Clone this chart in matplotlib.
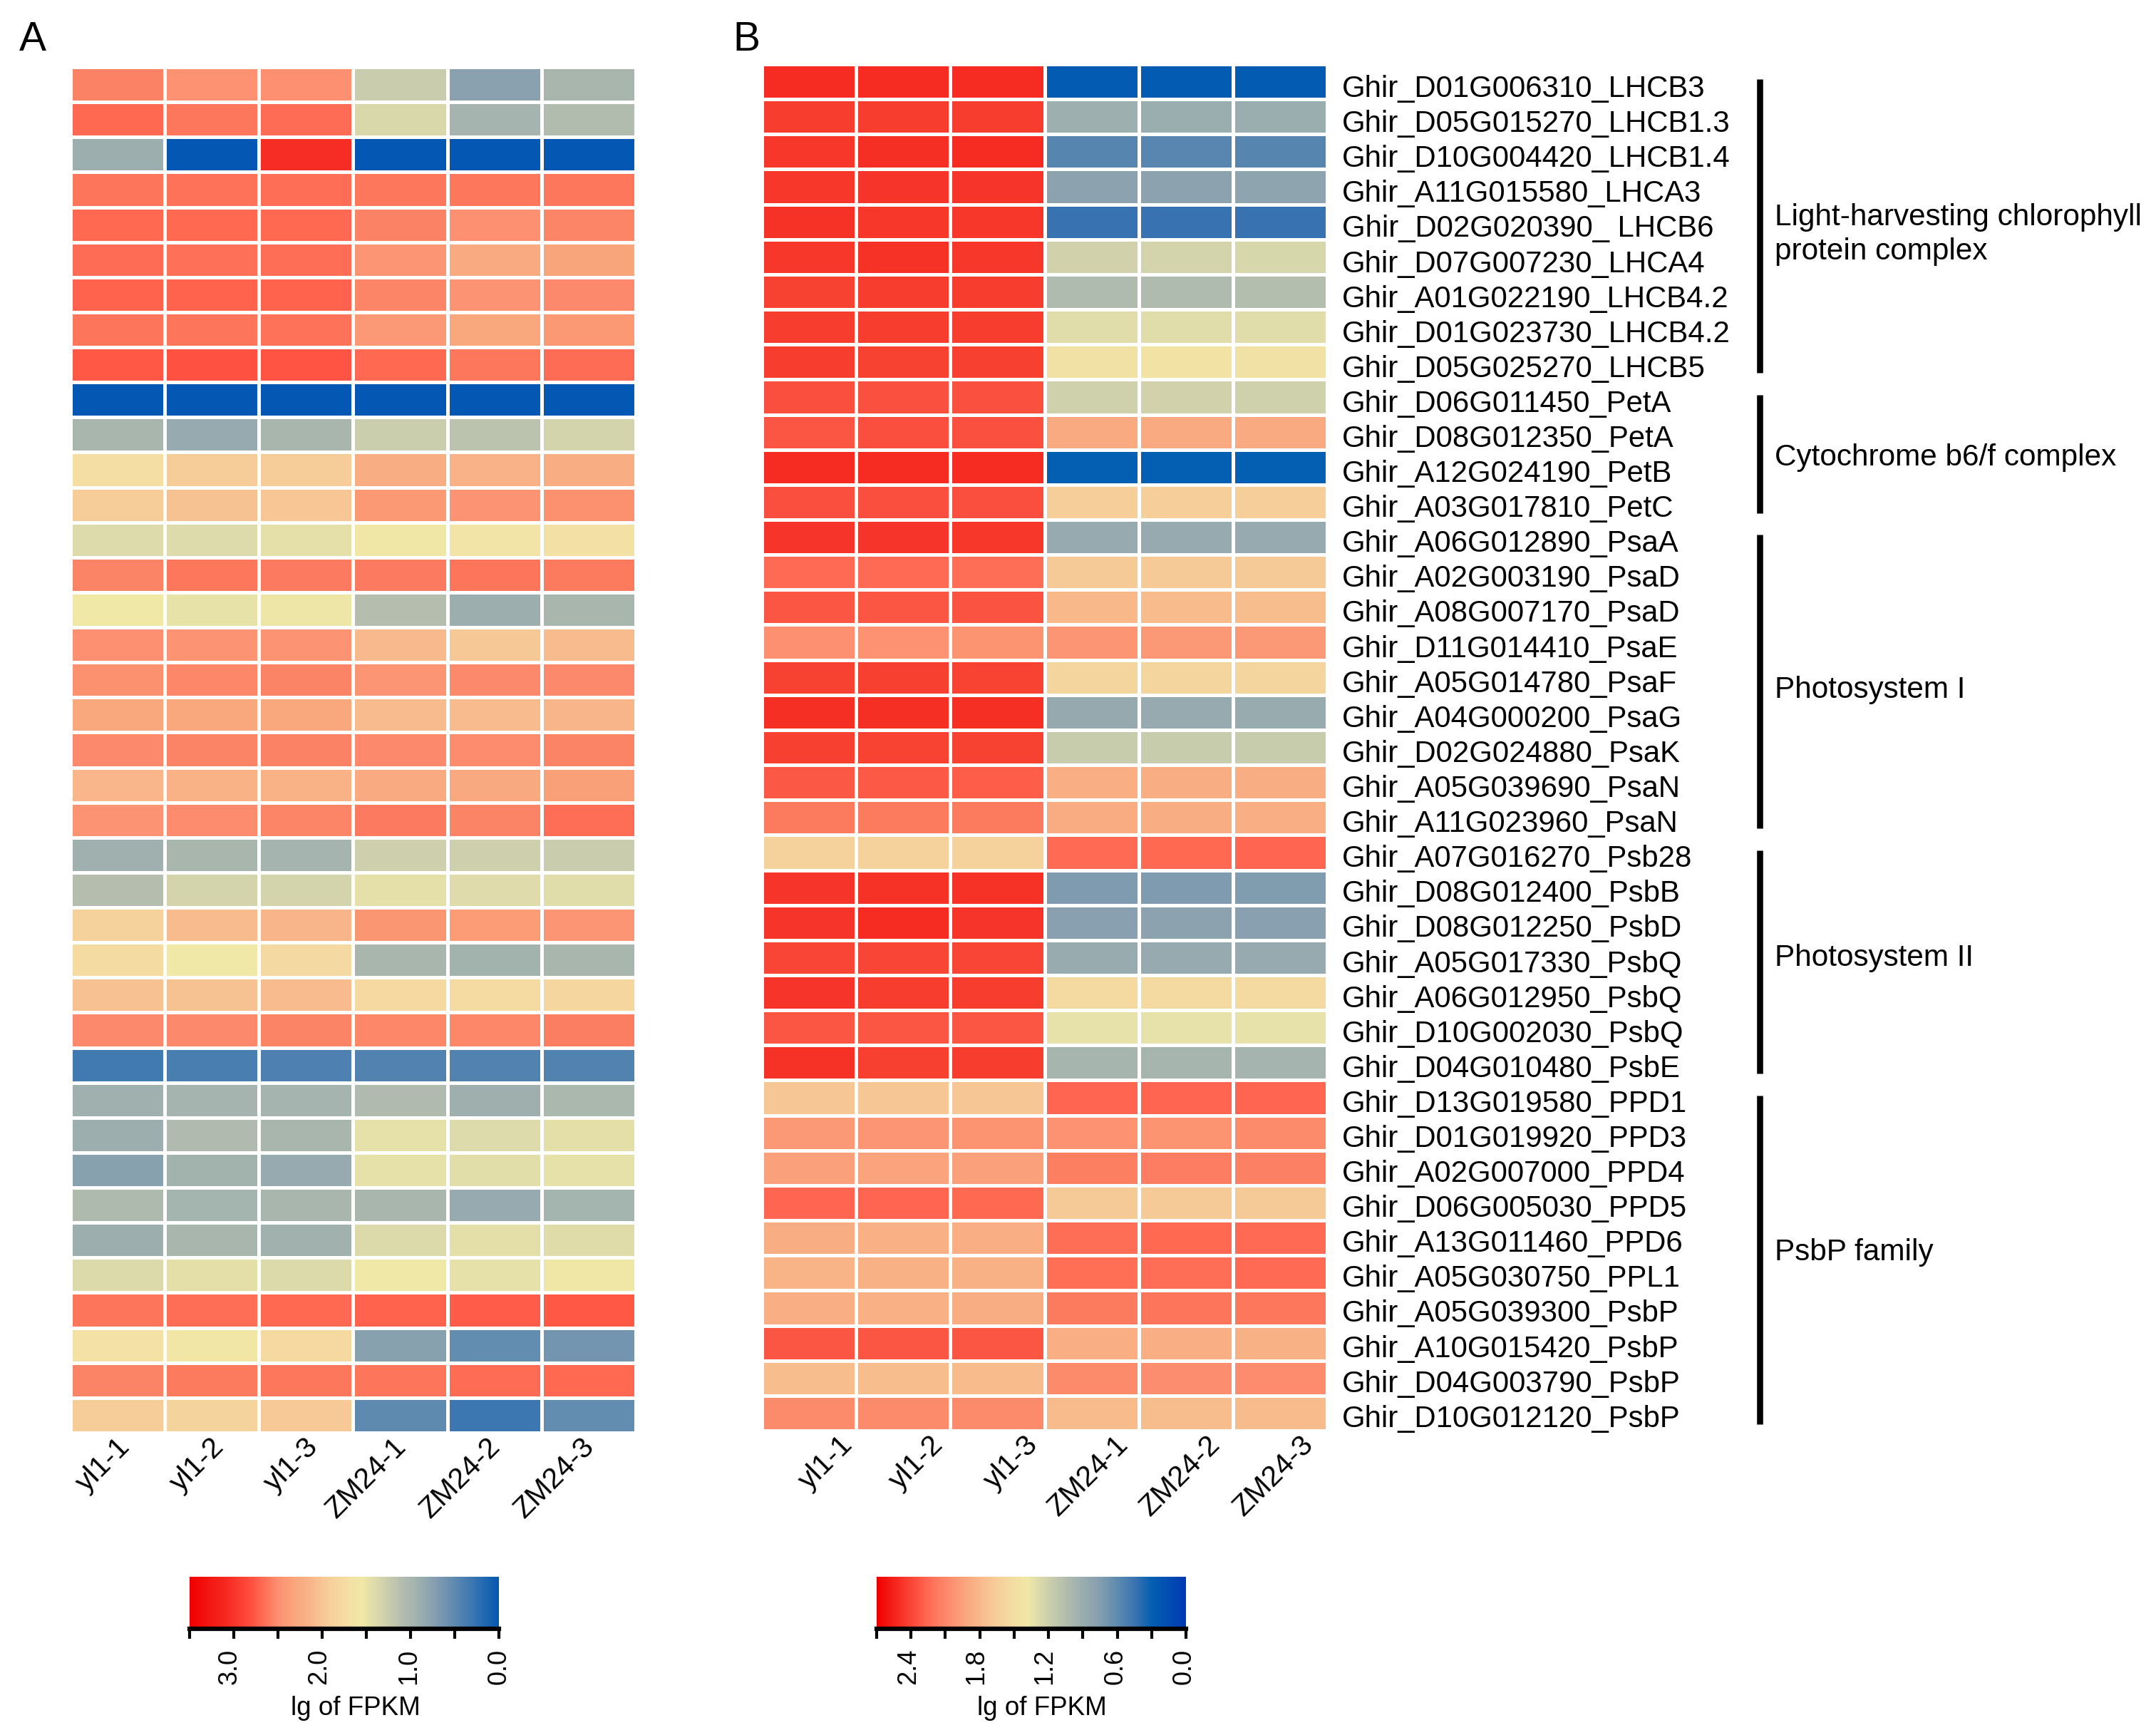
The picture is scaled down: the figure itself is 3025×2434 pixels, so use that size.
import numpy as np
import matplotlib
matplotlib.use("Agg")
import matplotlib.pyplot as plt
from matplotlib.colors import LinearSegmentedColormap, Normalize
from matplotlib.cm import ScalarMappable
from matplotlib.transforms import ScaledTranslation

plt.rcParams['font.family'] = ['Liberation Sans', 'DejaVu Sans']

samples = ["yl1-1", "yl1-2", "yl1-3", "ZM24-1", "ZM24-2", "ZM24-3"]

genes = ["Ghir_D01G006310_LHCB3", "Ghir_D05G015270_LHCB1.3", "Ghir_D10G004420_LHCB1.4",
         "Ghir_A11G015580_LHCA3", "Ghir_D02G020390_ LHCB6", "Ghir_D07G007230_LHCA4",
         "Ghir_A01G022190_LHCB4.2", "Ghir_D01G023730_LHCB4.2", "Ghir_D05G025270_LHCB5",
         "Ghir_D06G011450_PetA", "Ghir_D08G012350_PetA", "Ghir_A12G024190_PetB",
         "Ghir_A03G017810_PetC", "Ghir_A06G012890_PsaA", "Ghir_A02G003190_PsaD",
         "Ghir_A08G007170_PsaD", "Ghir_D11G014410_PsaE", "Ghir_A05G014780_PsaF",
         "Ghir_A04G000200_PsaG", "Ghir_D02G024880_PsaK", "Ghir_A05G039690_PsaN",
         "Ghir_A11G023960_PsaN", "Ghir_A07G016270_Psb28", "Ghir_D08G012400_PsbB",
         "Ghir_D08G012250_PsbD", "Ghir_A05G017330_PsbQ", "Ghir_A06G012950_PsbQ",
         "Ghir_D10G002030_PsbQ", "Ghir_D04G010480_PsbE", "Ghir_D13G019580_PPD1",
         "Ghir_D01G019920_PPD3", "Ghir_A02G007000_PPD4", "Ghir_D06G005030_PPD5",
         "Ghir_A13G011460_PPD6", "Ghir_A05G030750_PPL1", "Ghir_A05G039300_PsbP",
         "Ghir_A10G015420_PsbP", "Ghir_D04G003790_PsbP", "Ghir_D10G012120_PsbP"]

# name, first row, last row
group_names = ["Light-harvesting chlorophyll\nprotein complex", "Cytochrome b6/f complex",
               "Photosystem I", "Photosystem II", "PsbP family"]
group_first = [0, 9, 13, 22, 29]
group_last = [8, 12, 21, 28, 38]
group_text_y = [329, 642, 968, 1344, 1757]

values_a = [
    [2.57, 2.48, 2.50, 1.25, 0.76, 1.00],
    [2.68, 2.62, 2.67, 1.37, 0.97, 1.08],
    [0.90, 0.00, 3.05, 0.00, 0.00, 0.00],
    [2.63, 2.64, 2.66, 2.62, 2.62, 2.62],
    [2.68, 2.68, 2.68, 2.57, 2.50, 2.55],
    [2.67, 2.65, 2.66, 2.46, 2.27, 2.33],
    [2.72, 2.72, 2.72, 2.55, 2.47, 2.53],
    [2.63, 2.63, 2.64, 2.43, 2.30, 2.42],
    [2.76, 2.79, 2.78, 2.68, 2.62, 2.67],
    [0.00, 0.00, 0.00, 0.00, 0.00, 0.00],
    [1.00, 0.85, 1.00, 1.27, 1.15, 1.33],
    [1.72, 1.95, 1.95, 2.23, 2.17, 2.23],
    [1.93, 2.03, 2.00, 2.42, 2.47, 2.49],
    [1.40, 1.40, 1.46, 1.57, 1.62, 1.68],
    [2.56, 2.62, 2.60, 2.60, 2.63, 2.61],
    [1.55, 1.48, 1.53, 1.10, 0.90, 1.00],
    [2.50, 2.47, 2.47, 2.10, 1.98, 2.09],
    [2.49, 2.54, 2.56, 2.46, 2.53, 2.53],
    [2.30, 2.31, 2.30, 2.08, 2.09, 2.13],
    [2.53, 2.56, 2.57, 2.53, 2.52, 2.56],
    [2.12, 2.18, 2.18, 2.27, 2.29, 2.37],
    [2.47, 2.52, 2.55, 2.60, 2.56, 2.66],
    [0.92, 1.00, 0.97, 1.28, 1.28, 1.26],
    [1.10, 1.32, 1.33, 1.46, 1.41, 1.43],
    [1.88, 2.08, 2.13, 2.45, 2.40, 2.46],
    [1.75, 1.55, 1.76, 1.00, 0.95, 1.00],
    [2.04, 2.03, 2.09, 1.78, 1.77, 1.82],
    [2.53, 2.53, 2.56, 2.54, 2.54, 2.59],
    [0.34, 0.38, 0.41, 0.43, 0.43, 0.43],
    [0.92, 0.97, 0.97, 1.06, 0.91, 1.02],
    [0.90, 1.06, 1.00, 1.47, 1.40, 1.45],
    [0.75, 0.95, 0.85, 1.47, 1.44, 1.47],
    [1.05, 0.96, 1.00, 1.00, 0.85, 0.96],
    [0.90, 1.00, 0.94, 1.39, 1.45, 1.42],
    [1.39, 1.45, 1.39, 1.55, 1.47, 1.57],
    [2.63, 2.66, 2.68, 2.72, 2.74, 2.76],
    [1.67, 1.58, 1.78, 0.75, 0.52, 0.62],
    [2.56, 2.61, 2.62, 2.63, 2.67, 2.68],
    [1.93, 1.86, 1.97, 0.50, 0.31, 0.52],
]

values_b = [
    [2.50, 2.50, 2.50, 0.27, 0.27, 0.27],
    [2.44, 2.44, 2.44, 0.92, 0.91, 0.91],
    [2.46, 2.49, 2.51, 0.56, 0.57, 0.56],
    [2.46, 2.47, 2.47, 0.80, 0.80, 0.81],
    [2.48, 2.46, 2.46, 0.44, 0.44, 0.44],
    [2.46, 2.48, 2.46, 1.22, 1.23, 1.25],
    [2.42, 2.44, 2.44, 1.03, 1.03, 1.05],
    [2.44, 2.44, 2.44, 1.30, 1.30, 1.30],
    [2.44, 2.42, 2.43, 1.46, 1.45, 1.46],
    [2.36, 2.35, 2.35, 1.21, 1.22, 1.21],
    [2.33, 2.36, 2.35, 1.90, 1.90, 1.90],
    [2.50, 2.51, 2.51, 0.30, 0.30, 0.30],
    [2.36, 2.36, 2.36, 1.65, 1.65, 1.65],
    [2.47, 2.47, 2.46, 0.87, 0.87, 0.87],
    [2.25, 2.25, 2.24, 1.68, 1.68, 1.68],
    [2.33, 2.33, 2.34, 1.80, 1.78, 1.77],
    [2.05, 2.04, 2.03, 2.02, 2.00, 2.00],
    [2.42, 2.43, 2.41, 1.58, 1.58, 1.58],
    [2.49, 2.49, 2.49, 0.86, 0.87, 0.89],
    [2.43, 2.41, 2.42, 1.17, 1.17, 1.17],
    [2.32, 2.31, 2.30, 1.87, 1.88, 1.88],
    [2.18, 2.17, 2.17, 1.89, 1.88, 1.87],
    [1.62, 1.62, 1.62, 2.25, 2.26, 2.27],
    [2.47, 2.48, 2.48, 0.73, 0.73, 0.74],
    [2.47, 2.50, 2.47, 0.77, 0.80, 0.77],
    [2.40, 2.40, 2.40, 0.89, 0.87, 0.87],
    [2.47, 2.44, 2.44, 1.53, 1.53, 1.53],
    [2.33, 2.33, 2.33, 1.34, 1.34, 1.34],
    [2.48, 2.43, 2.44, 0.98, 0.98, 0.97],
    [1.70, 1.70, 1.70, 2.27, 2.27, 2.27],
    [2.00, 2.02, 2.03, 2.04, 2.03, 2.08],
    [1.95, 1.94, 1.95, 2.15, 2.16, 2.14],
    [2.27, 2.27, 2.26, 1.68, 1.68, 1.68],
    [1.88, 1.86, 1.87, 2.24, 2.26, 2.25],
    [1.84, 1.85, 1.85, 2.23, 2.24, 2.25],
    [1.87, 1.86, 1.88, 2.17, 2.20, 2.19],
    [2.33, 2.33, 2.33, 1.87, 1.87, 1.85],
    [1.77, 1.77, 1.78, 2.08, 2.06, 2.07],
    [2.08, 2.08, 2.08, 1.78, 1.77, 1.78],
]

# colour stops
vmax_a = 3.5
stops_a = [(0, "#0458B3"), (0.5, "#5F8AB0"), (0.75, "#89A1AF"), (0.95, "#A3B3AE"), (1.1, "#B4BDAE"),
           (1.35, "#D7D6AC"), (1.55, "#F0E8A6"), (1.7, "#F4DFA5"), (1.95, "#F6CC98"), (2.15, "#F9B388"),
           (2.3, "#F9A87E"), (2.5, "#FC9070"), (2.6, "#FC7C60"), (2.7, "#FF6650"), (2.8, "#FF5040"),
           (3.05, "#F62D24"), (3.5, "#F00000")]
vmax_b = 2.7
stops_b = [(0, "#0038B4"), (0.3, "#0460B2"), (0.44, "#3A72B0"), (0.6, "#5F8BB0"), (0.78, "#8AA1AF"),
           (0.9, "#9AADAF"), (1.03, "#AFBBAF"), (1.21, "#CFD1AC"), (1.3, "#E0DDAB"), (1.39, "#F0E8A6"),
           (1.5, "#F3DDA3"), (1.67, "#F6CC98"), (1.8, "#F8B88A"), (1.9, "#F9AA80"), (2.05, "#FC9070"),
           (2.18, "#FC7A5E"), (2.27, "#FF6650"), (2.35, "#FA5040"), (2.43, "#F74030"), (2.5, "#F62D24"),
           (2.7, "#F00000")]

W, H = 3025, 2434
fig = plt.figure(figsize=(W / 100, H / 100), dpi=100)


def px_axes(x0, y0, x1, y1):
    return fig.add_axes([x0 / W, 1 - y1 / H, (x1 - x0) / W, (y1 - y0) / H])


def make_cmap(stops, vmax):
    return LinearSegmentedColormap.from_list("fpkm", [(v / vmax, c) for v, c in stops], N=512)


def heatmap(box, values, cmap, vmax, label_dx):
    ax = px_axes(*box)
    data = np.array(values)
    ax.pcolormesh(data, cmap=cmap, norm=Normalize(0, vmax), edgecolors="white", linewidth=3.3)
    ax.set_xlim(0, data.shape[1])
    ax.set_ylim(data.shape[0], 0)
    ax.set_yticks([])
    ax.set_xticks(np.arange(data.shape[1]) + 0.5)
    ax.set_xticklabels(samples, rotation=45, ha="right", va="top", rotation_mode="anchor", fontsize=29.5)
    ax.tick_params(axis="x", length=0, pad=0)
    for t, dx in zip(ax.get_xticklabels(), label_dx):
        t.set_transform(t.get_transform() + ScaledTranslation(dx / 100, 0, fig.dpi_scale_trans))
    for s in ax.spines.values():
        s.set_visible(False)
    return ax


def scalebar(box, cmap, vmax, ticks, labels, label_dx, label_x):
    cax = px_axes(*box)
    cb = fig.colorbar(ScalarMappable(Normalize(0, vmax), cmap), cax=cax, orientation="horizontal")
    cb.outline.set_visible(False)
    cax.set_xlim(vmax, 0)
    cax.xaxis.set_ticks_position("bottom")
    cax.set_xticks(ticks)
    cax.set_xticklabels(labels, rotation=90, fontsize=26)
    cax.tick_params(axis="x", length=10, width=3, pad=10)
    cax.spines["bottom"].set_visible(True)
    cax.spines["bottom"].set_linewidth(4.5)
    for t, dx in zip(cax.get_xticklabels(), label_dx):
        t.set_transform(t.get_transform() + ScaledTranslation(dx / 100, 0, fig.dpi_scale_trans))
    fig.text(label_x / W, 1 - 2406 / H, "lg of FPKM", fontsize=26.5, ha="center", va="baseline")


cmap_a = make_cmap(stops_a, vmax_a)
cmap_b = make_cmap(stops_b, vmax_b)

ax_a = heatmap((99, 94, 892, 2010), values_a, cmap_a, vmax_a, [-2, -2, -3, -11, -11, -12])
ax_b = heatmap((1069, 90, 1862, 2007), values_b, cmap_b, vmax_b, [42, 37, 37, 32, 29, 27])

# gene names next to panel B
for i, g in enumerate(genes):
    fig.text(1883 / W, 1 - (125 + i * 49.1) / H, g, fontsize=30.2, ha="left", va="center")

# group brackets
bar_x = (2469 - 1069) / (1862 - 1069)
for first, last in zip(group_first, group_last):
    ax_b.plot([bar_x, bar_x], [first + 0.43, last + 0.81], color="black", lw=6.2, solid_capstyle="butt",
              transform=ax_b.get_yaxis_transform(), clip_on=False)
for name, y in zip(group_names, group_text_y):
    fig.text(2490 / W, 1 - y / H, name, fontsize=30.4, ha="left", va="center", linespacing=1.24)

scalebar((266, 2212, 700, 2285), cmap_a, vmax_a, np.arange(0, 3.6, 0.5),
         ["0.0", "", "1.0", "", "2.0", "", "3.0", ""], [0, 0, -2, 0, -4, 0, -6, 0], 499)
scalebar((1230, 2212, 1664, 2285), cmap_b, vmax_b, np.arange(0, 2.8, 0.3),
         ["0.0", "", "0.6", "", "1.2", "", "1.8", "", "2.4", ""], [-3, 0, -2, 0, -5, 0, -5, 0, -4, 0], 1462)

fig.text(27 / W, 1 - 71 / H, "A", fontsize=41, ha="left", va="baseline")
fig.text(1028 / W, 1 - 71 / H, "B", fontsize=41, ha="left", va="baseline")

fig.savefig("out.png", dpi=100, facecolor="white")
